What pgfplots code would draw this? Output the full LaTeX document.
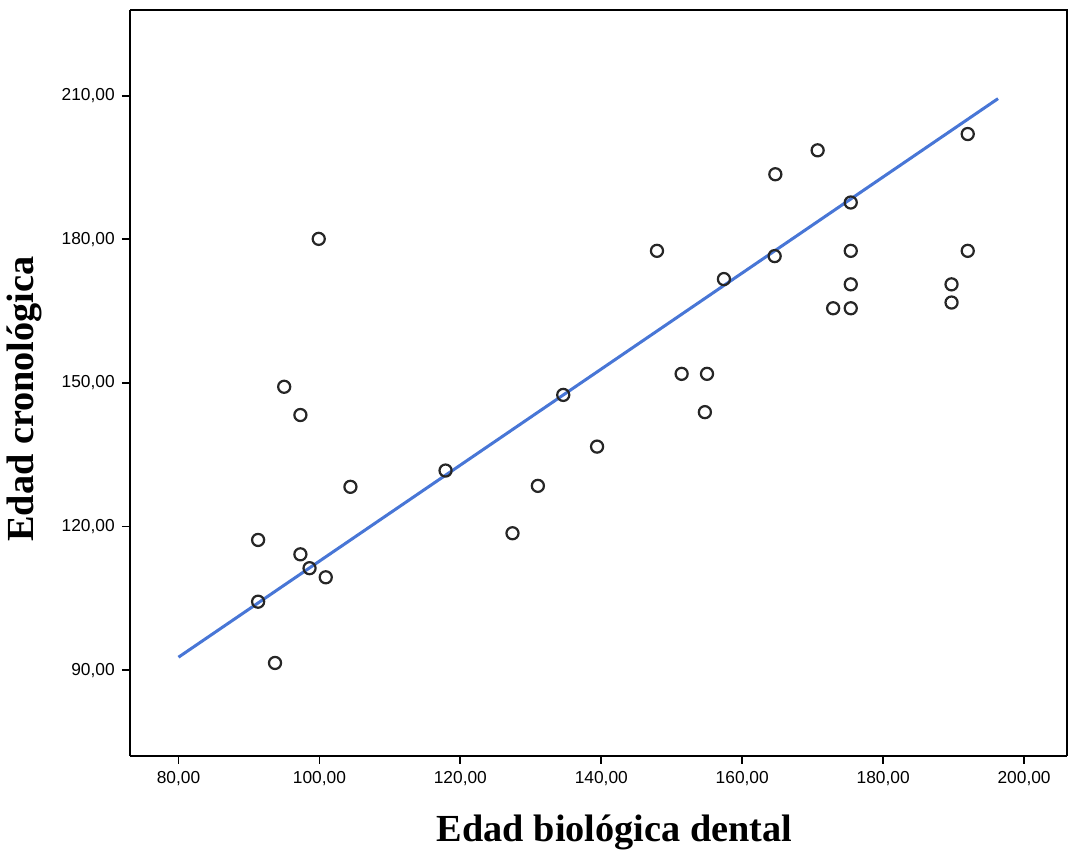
\documentclass[border=0pt]{standalone}
\usepackage{pgfplots}
\pgfplotsset{compat=1.18}
\usepackage{fontspec}
\setmainfont{Liberation Sans}
\newfontfamily\serifb{Liberation Serif}
\definecolor{fitblue}{RGB}{72,118,214}
\begin{document}
\begin{tikzpicture}
\begin{axis}[
  scale only axis,
  width=465pt, height=370pt,
  xmin=73.1, xmax=206.1, ymin=72.1, ymax=227.9,
  xtick={80,100,...,200}, ytick={90,120,...,210},
  axis x line*=bottom, axis y line*=left,
  axis line style={line width=0.9pt},
  tick style={line width=0.9pt, black},
  tick align=outside, major tick length=4pt,
  /pgf/number format/.cd, fixed, fixed zerofill, precision=2, use comma, 1000 sep={}, assume math mode=true,
  /pgfplots/.cd,
  ticklabel style={font=\fontsize{8.6}{10}\selectfont},
  xlabel={\serifb\bfseries Edad biológica dental},
  ylabel={\serifb\bfseries Edad cronológica},
  label style={font=\fontsize{19}{21}\selectfont},
  xlabel style={yshift=-8pt, xshift=8pt},
  ylabel style={yshift=3pt, xshift=-8pt},
  clip=false,
]
\draw[line width=0.9pt] (rel axis cs:0,1) -- (rel axis cs:1,1) -- (rel axis cs:1,0);
\addplot[fitblue, line width=1.5pt] coordinates {(80,92.7) (196.3,209.4)};
\addplot[only marks, mark=o, mark size=3pt, mark options={line width=1.1pt, draw=black!85}] coordinates {
(91.3,104.3) (91.3,117.2) (93.7,91.5) (95.0,149.2) (97.3,143.3) (97.3,114.2)
(98.6,111.3) (99.9,180.1) (100.9,109.4) (104.4,128.3) (117.9,131.7) (127.4,118.6)
(131.0,128.5) (134.6,147.5) (139.4,136.7) (147.9,177.6) (151.4,151.9) (155.0,151.9)
(154.7,143.9) (157.4,171.7) (164.6,176.5) (164.7,193.6) (170.7,198.6) (172.9,165.6)
(175.4,187.7) (175.4,177.6) (175.4,170.6) (175.4,165.6) (189.7,170.6) (189.7,166.8)
(192.0,177.6) (192.0,202.0)
};
\end{axis}
\path ([yshift=5pt]current axis.north);
\end{tikzpicture}
\end{document}
